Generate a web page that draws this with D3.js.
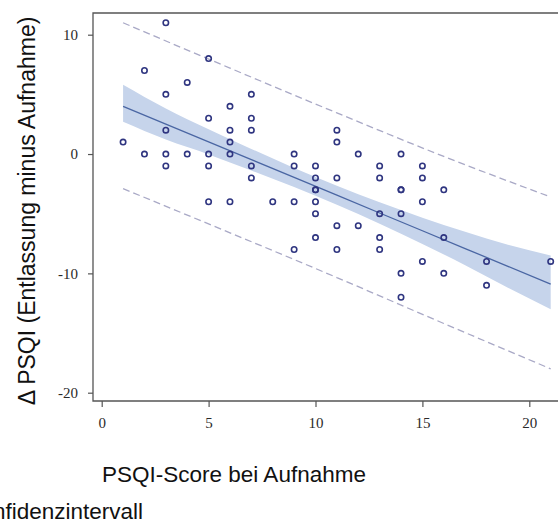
<!DOCTYPE html>
<html><head><meta charset="utf-8">
<script src="https://cdn.jsdelivr.net/npm/d3@7"></script>
<style>html,body{margin:0;padding:0;background:#fff;overflow:hidden}</style>
</head><body>
<svg id="c" width="558" height="523"></svg>
<script>
// Data
const pointsX = [1,2,2,3,3,3,3,3,4,4,5,5,5,5,5,6,6,6,6,6,7,7,7,7,7,8,9,9,9,9,
  10,10,10,10,10,10,10,11,11,11,11,11,12,12,13,13,13,13,13,14,14,14,14,14,14,15,15,15,15,16,16,16,18,18,21];
const pointsY = [1,7,0,11,5,2,0,-1,6,0,8,3,0,-1,-4,4,2,1,0,-4,5,3,2,-1,-2,-4,0,-1,-4,-8,
  -1,-2,-3,-4,-5,-7,-3,2,1,-2,-6,-8,0,-6,-1,-2,-5,-7,-8,0,-3,-5,-10,-12,-3,-1,-2,-4,-9,-3,-7,-10,-9,-11,-9];
const fitX = [1,3,5,7,9,11,13,15,17,19,21];
const fitY = [4.0,2.51,1.02,-0.47,-1.96,-3.45,-4.94,-6.43,-7.92,-9.41,-10.9];
const ciUpper = [5.8,3.81,2.07,0.43,-1.16,-2.65,-4.04,-5.33,-6.52,-7.61,-8.5];
const ciLower = [2.7,1.21,-0.03,-1.37,-2.76,-4.25,-5.84,-7.53,-9.32,-11.21,-13.0];
const piX = [1,6,11,16,21];
const piUpper = [11.0,7.2,3.45,-0.2,-3.6];
const piLower = [-2.9,-6.6,-10.35,-14.2,-18.0];
const xTicks = [0,5,10,15,20];
const yTicks = [10,0,-10,-20];

const svg = d3.select("#c");
const x = d3.scaleLinear().domain([0,20]).range([101.7,529.3]);
const y = d3.scaleLinear().domain([-20,10]).range([392.7,34.7]);
const frame = {l:93, t:13, b:401, r:600};

// CI band
const area = d3.area().x((d,i)=>x(fitX[i])).y0((d,i)=>y(ciLower[i])).y1((d,i)=>y(ciUpper[i])).curve(d3.curveMonotoneX);
svg.append("path").attr("d", area(fitX)).attr("fill","#c6d4eb").attr("stroke","none");

// prediction lines
const pl = arr => d3.line().x((d,i)=>x(piX[i])).y((d,i)=>y(arr[i])).curve(d3.curveMonotoneX)(piX);
[piUpper, piLower].forEach(a=>{
  svg.append("path").attr("d", pl(a)).attr("fill","none").attr("stroke","#a9a9c6")
    .attr("stroke-width",1.3).attr("stroke-dasharray","7,4");
});

// fit line
svg.append("path").attr("d", d3.line().x((d,i)=>x(fitX[i])).y((d,i)=>y(fitY[i]))(fitX))
  .attr("fill","none").attr("stroke","#4a66a3").attr("stroke-width",1.3);

// points
svg.append("g").selectAll("circle").data(pointsX).join("circle")
  .attr("cx",(d)=>x(d)).attr("cy",(d,i)=>y(pointsY[i])).attr("r",2.7)
  .attr("fill","none").attr("stroke","#2f3580").attr("stroke-width",1.6);

// frame
svg.append("path").attr("d",`M${frame.r},${frame.t}H${frame.l}V${frame.b}H${frame.r}`)
  .attr("fill","none").attr("stroke","#555").attr("stroke-width",1.3);

// axes
const ya = svg.append("g").attr("transform",`translate(${frame.l},0)`)
  .call(d3.axisLeft(y).tickValues(yTicks).tickSize(5).tickPadding(10).tickFormat(d=>d<0?"-"+Math.abs(d):d));
const xa = svg.append("g").attr("transform",`translate(0,${frame.b})`)
  .call(d3.axisBottom(x).tickValues(xTicks).tickSize(6).tickPadding(10));
[ya,xa].forEach(a=>{
  a.select(".domain").remove();
  a.selectAll("line").attr("stroke","#555").attr("stroke-width",1.2);
  a.selectAll("text").attr("font-family","'Liberation Serif','DejaVu Serif',serif").attr("font-size",15).attr("fill","#2a2a2a");
});

// titles
svg.append("text").attr("x",234).attr("y",482).attr("text-anchor","middle")
  .attr("font-family","'Liberation Sans',Arial,sans-serif").attr("font-size",22.5).attr("fill","#111")
  .text("PSQI-Score bei Aufnahme");
svg.append("text").attr("transform","translate(35,211) rotate(-90)").attr("text-anchor","middle")
  .attr("font-family","'Liberation Sans',Arial,sans-serif").attr("font-size",23).attr("fill","#111")
  .text("Δ PSQI (Entlassung minus Aufnahme)");
svg.append("text").attr("x",143).attr("y",519).attr("text-anchor","end")
  .attr("font-family","'Liberation Sans',Arial,sans-serif").attr("font-size",22.5).attr("fill","#111")
  .text("Konfidenzintervall");
</script>
</body></html>
